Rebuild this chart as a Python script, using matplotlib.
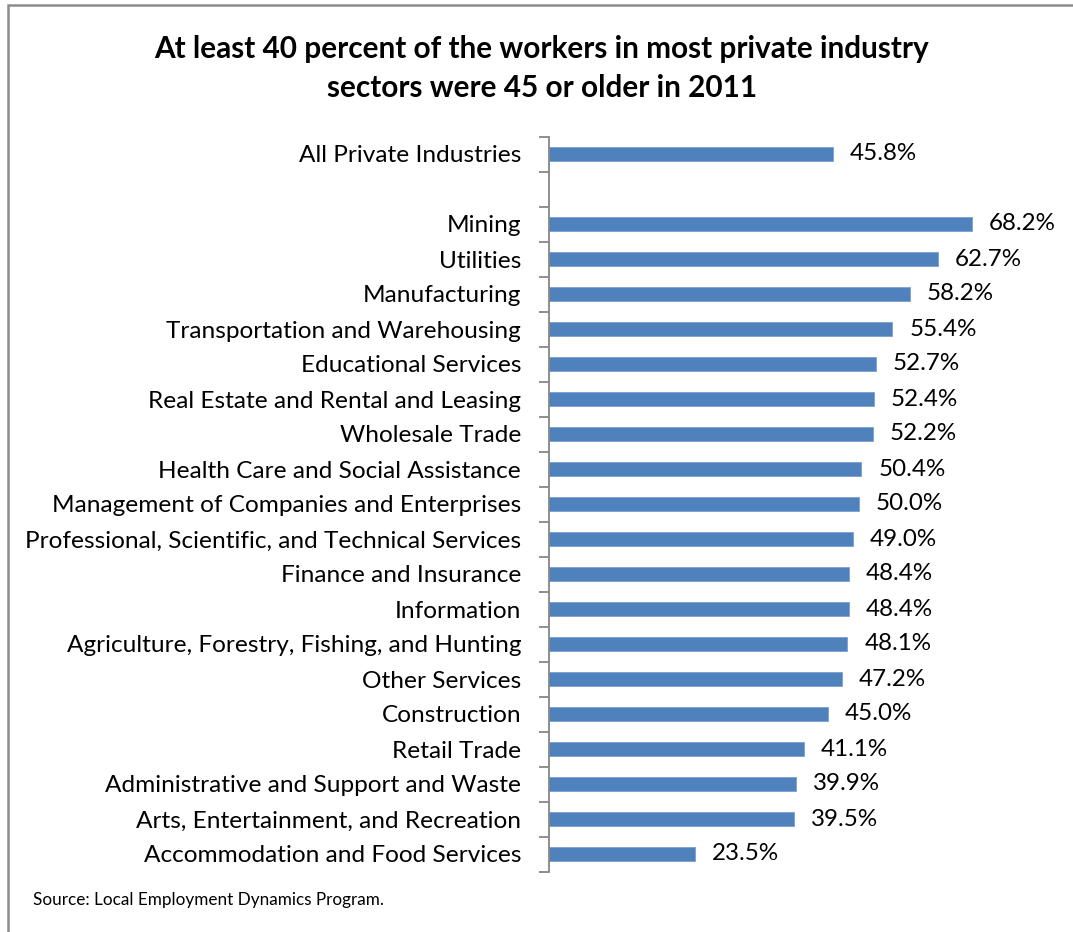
import numpy as np
import matplotlib.pyplot as plt
from matplotlib.patches import Rectangle

# data (top to bottom); "" is the empty gap row
sectors = [
    "All Private Industries",
    "",
    "Mining",
    "Utilities",
    "Manufacturing",
    "Transportation and Warehousing",
    "Educational Services",
    "Real Estate and Rental and Leasing",
    "Wholesale Trade",
    "Health Care and Social Assistance",
    "Management of Companies and Enterprises",
    "Professional, Scientific, and Technical Services",
    "Finance and Insurance",
    "Information",
    "Agriculture, Forestry, Fishing, and Hunting",
    "Other Services",
    "Construction",
    "Retail Trade",
    "Administrative and Support and Waste",
    "Arts, Entertainment, and Recreation",
    "Accommodation and Food Services",
]
share_45plus = [45.8, None, 68.2, 62.7, 58.2, 55.4, 52.7, 52.4, 52.2, 50.4, 50.0,
                49.0, 48.4, 48.4, 48.1, 47.2, 45.0, 41.1, 39.9, 39.5, 23.5]

title = "At least 40 percent of the workers in most private industry\nsectors were 45 or older in 2011"
source = "Source: Local Employment Dynamics Program."

plt.rcParams["font.family"] = ["Lato", "DejaVu Sans"]

W, H = 1073, 932
fig = plt.figure(figsize=(W / 100, H / 100), dpi=100)

# axes placed in pixel terms
left, right = 549, 1045
top, bottom = 136.5, 871.5
ax = fig.add_axes([left / W, 1 - bottom / H, (right - left) / W, (bottom - top) / H])

n = len(sectors)
ypos = np.arange(n)
for y, v in zip(ypos, share_45plus):
    if v is None:
        continue
    ax.barh(y, v, height=0.4, color="#4F81BD", edgecolor="#7A9FD0", linewidth=0.6)
    ax.text(v + 2.75, y, f"{v:.1f}%", va="center", ha="left", fontsize=17.4, color="black")

ax.set_xlim(0, 80)
ax.set_ylim(n - 0.5, -0.5)

ax.set_yticks(ypos)
ax.set_yticklabels(sectors, fontsize=17.6)
ax.tick_params(axis="y", which="major", length=0, pad=20)
ax.set_yticks(np.arange(n + 1) - 0.5, minor=True)
ax.tick_params(axis="y", which="minor", length=7, width=1.3, color="#868686", direction="out")
ax.set_xticks([])

for s in ["top", "right", "bottom"]:
    ax.spines[s].set_visible(False)
ax.spines["left"].set_color("#868686")
ax.spines["left"].set_linewidth(1.3)

fig.text(542 / W, 1 - 68.5 / H, title, ha="center", va="center", fontsize=21.4,
         fontweight="bold", linespacing=1.47)
fig.text(33 / W, 1 - 900 / H, source, ha="left", va="center", fontsize=12.3)

# outer frame (left and top edges visible)
fig.add_artist(Rectangle((8 / W, -0.1), 1.2, 1 - 5 / H + 0.1, transform=fig.transFigure,
                         fill=False, edgecolor="#8C8C8C", linewidth=1.8))

fig.savefig("out.png", dpi=100)
